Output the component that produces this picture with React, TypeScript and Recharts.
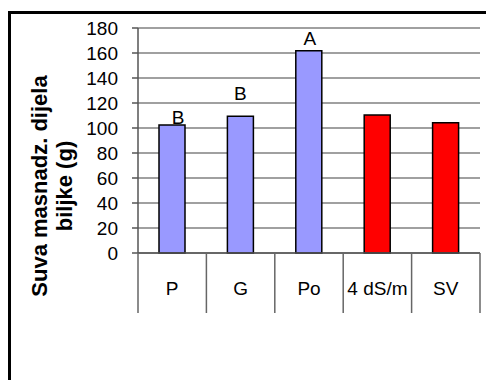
import React from 'react';
import { BarChart, Bar, XAxis, YAxis, CartesianGrid, Cell, LabelList } from 'recharts';

const categories = ['P', 'G', 'Po', '4 dS/m', 'SV'];
const values = [102.5, 109.5, 161.8, 110.4, 104.2];
const letters = ['B', 'B', 'A', '', ''];
const yTicks = [0, 20, 40, 60, 80, 100, 120, 140, 160, 180];
const barColors = ['#9999FF', '#9999FF', '#9999FF', '#FF0000', '#FF0000'];
const titleLines = ['Suva masnadz. dijela', 'biljke (g)'];

const data = categories.map((name, i) => ({ name, value: values[i], letter: letters[i] }));

const W = 486;
const H = 380;
const MARGIN = { top: 28, right: 6, bottom: 67, left: 0 };
const Y_AXIS_W = 138;
const X_AXIS_H = 60;
const FONT = '"Liberation Sans", Arial, sans-serif';
const BAND = (W - MARGIN.right - MARGIN.left - Y_AXIS_W) / categories.length;
const LETTER_SHIFT = [
  [6, 1],
  [0, 16],
  [1, 6],
  [0, 6],
  [0, 6],
];

const XTick = (props: any) => {
  const { x, y, payload, index } = props;
  const left = x - BAND / 2;
  const right = x + BAND / 2;
  return (
    <g>
      <line x1={left} y1={y} x2={left} y2={y + X_AXIS_H} stroke="#666" strokeWidth={1.5} />
      {index === categories.length - 1 && (
        <line x1={right} y1={y} x2={right} y2={y + X_AXIS_H} stroke="#666" strokeWidth={1.5} />
      )}
      <text x={x} y={y + 42} textAnchor="middle" fontSize={19} fontFamily={FONT} fill="#000">
        {payload.value}
      </text>
    </g>
  );
};

const LetterLabel = (props: any) => {
  const { x, y, width, value, index } = props;
  if (!value) return null;
  const [dx, dy] = LETTER_SHIFT[index] || [0, 6];
  return (
    <text x={x + width / 2 + dx} y={y - dy} textAnchor="middle" fontSize={19} fontFamily={FONT} fill="#000">
      {value}
    </text>
  );
};

const YTitle = () => (
  <g>
    <text
      x={47}
      y={186}
      transform="rotate(-90, 47, 186)"
      textAnchor="middle"
      fontSize={22}
      fontWeight="bold"
      fontFamily={FONT}
      fill="#000"
    >
      {titleLines[0]}
    </text>
    <text
      x={72}
      y={186}
      transform="rotate(-90, 72, 186)"
      textAnchor="middle"
      fontSize={22}
      fontWeight="bold"
      fontFamily={FONT}
      fill="#000"
    >
      {titleLines[1]}
    </text>
  </g>
);

export default function App() {
  return (
    <div style={{ position: 'absolute', left: 0, top: 0, width: W, height: H, background: '#fff', overflow: 'hidden' }}>
      <div
        style={{
          position: 'absolute',
          left: 8,
          top: 11,
          width: 600,
          height: 600,
          borderLeft: '3px solid #000',
          borderTop: '3px solid #000',
        }}
      />
      <div style={{ position: 'absolute', left: 0, top: 0 }}>
        <BarChart width={W} height={H} data={data} margin={MARGIN}>
          <CartesianGrid vertical={false} stroke="#808080" strokeWidth={1.5} />
          <XAxis
            dataKey="name"
            height={X_AXIS_H}
            tickLine={false}
            tickSize={0}
            tickMargin={0}
            axisLine={{ stroke: '#555', strokeWidth: 1.5 }}
            tick={<XTick />}
            interval={0}
          />
          <YAxis
            width={Y_AXIS_W}
            domain={[0, 180]}
            ticks={yTicks}
            interval={0}
            tickSize={6}
            tickMargin={14}
            tickLine={{ stroke: '#555', strokeWidth: 1.5 }}
            axisLine={{ stroke: '#555', strokeWidth: 1.5 }}
            tick={{ fontSize: 19, fontFamily: FONT, fill: '#000' }}
            label={<YTitle />}
          />
          <YAxis
            yAxisId="right"
            orientation="right"
            width={0}
            domain={[0, 180]}
            tick={false}
            tickLine={false}
            axisLine={{ stroke: '#808080', strokeWidth: 1.5 }}
          />
          <Bar dataKey="value" barSize={26} stroke="#000" strokeWidth={1.5} isAnimationActive={false}>
            {data.map((d, i) => (
              <Cell key={d.name} fill={barColors[i]} />
            ))}
            <LabelList dataKey="letter" content={<LetterLabel />} />
          </Bar>
        </BarChart>
      </div>
    </div>
  );
}
